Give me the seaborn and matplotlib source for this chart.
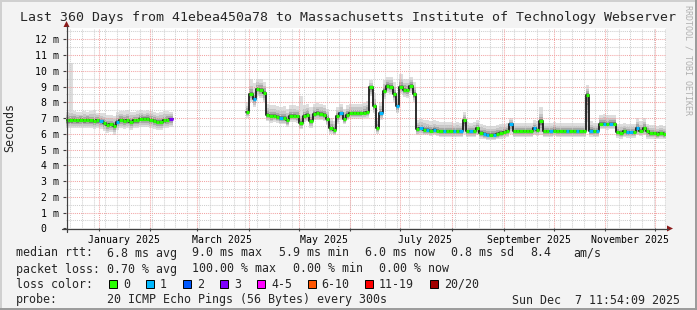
import matplotlib
matplotlib.use("Agg")
import numpy as np
import pandas as pd
import seaborn as sns
import matplotlib.pyplot as plt
from matplotlib.patches import Rectangle, Polygon
from matplotlib.lines import Line2D

# ---------------- data ----------------
START = pd.Timestamp("2024-12-12 11:54:09")
END = pd.Timestamp("2025-12-07 11:54:09")
BUCKET_DAYS = 2

# median rtt per 2-day bucket (ms); None = no data
median_ms = [
    6.85, 6.85, 6.9, 6.85, 6.9, 6.85, 6.9, 6.85, 6.8, 6.85,
    6.8, 6.7, 6.55, 6.6, 6.5, 6.75, 6.9, 6.8, 6.85, 6.75,
    6.85, 6.85, 6.95, 6.95, 6.95, 6.9, 6.8, 6.75, 6.75, 6.85,
    6.9, 6.95,
    None, None, None, None, None, None, None, None, None, None, None,
    None, None, None, None, None, None, None, None, None, None, None,
    7.4, 8.55, 8.2, 8.85, 8.8, 8.6, 7.2, 7.1, 7.15, 7.05,
    7.0, 7.0, 6.85, 7.15, 7.15, 7.1, 6.7, 7.15, 7.2, 6.8,
    7.25, 7.3, 7.25, 7.2, 6.95, 6.4, 6.25, 7.1, 7.3, 6.95,
    7.2, 7.3, 7.3, 7.3, 7.3, 7.35, 7.4, 8.95, 7.75, 6.4,
    7.3, 8.7, 9.05, 9.0, 8.5, 7.75, 9.0, 8.8, 8.75, 9.05,
    8.5, 6.3, 6.35, 6.25, 6.25, 6.2, 6.25, 6.2, 6.15, 6.15,
    6.15, 6.15, 6.15, 6.15, 6.15, 6.85, 6.15, 6.15, 6.15, 6.35,
    6.05, 6.0, 5.95, 5.95, 5.95, 6.0, 6.05, 6.1, 6.15, 6.6,
    6.15, 6.15, 6.15, 6.15, 6.15, 6.15, 6.35, 6.25, 6.8, 6.15,
    6.15, 6.15, 6.2, 6.15, 6.15, 6.15, 6.15, 6.15, 6.15, 6.15,
    6.15, 6.15, 8.45, 6.2, 6.15, 6.15, 6.65, 6.65, 6.6, 6.65,
    6.65, 6.1, 6.05, 6.15, 6.1, 6.1, 6.1, 6.35, 6.2, 6.35,
    6.15, 6.05, 6.05, 6.0, 6.05, 6.0,
]

# upper edge of the smoke (ms)
smoke_hi_ms = [
    7.4, 10.5, 7.45, 7.4, 7.4, 7.45, 7.4, 7.45, 7.5, 7.35,
    7.35, 7.3, 7.2, 7.2, 7.15, 7.4, 7.45, 7.45, 7.5, 7.4,
    7.4, 7.45, 7.5, 7.45, 7.5, 7.45, 7.4, 7.35, 7.4, 7.45,
    7.45, 7.4,
    None, None, None, None, None, None, None, None, None, None, None,
    None, None, None, None, None, None, None, None, None, None, None,
    8.0, 9.5, 9.2, 9.5, 9.5, 9.3, 7.9, 7.8, 7.8, 7.75,
    7.7, 7.75, 7.6, 7.8, 7.8, 7.75, 8.4, 7.8, 7.9, 7.7,
    7.9, 7.95, 7.9, 7.85, 7.6, 7.0, 6.8, 7.7, 7.9, 7.6,
    7.8, 7.9, 7.9, 7.9, 7.9, 7.95, 8.1, 9.4, 8.6, 7.0,
    8.0, 9.4, 9.6, 9.6, 9.3, 8.6, 9.8, 9.5, 9.5, 9.6,
    9.3, 6.9, 6.95, 6.9, 6.85, 6.8, 6.85, 6.8, 6.75, 6.75,
    6.75, 6.75, 6.7, 6.75, 6.7, 7.4, 6.75, 6.7, 6.75, 6.9,
    6.6, 6.55, 6.5, 6.5, 6.5, 6.55, 6.6, 6.65, 6.7, 7.0,
    6.7, 6.7, 6.7, 6.7, 6.7, 6.7, 6.85, 6.8, 7.7, 6.7,
    6.7, 6.7, 6.75, 6.7, 6.7, 6.7, 6.7, 6.7, 6.7, 6.7,
    6.7, 6.7, 9.1, 6.8, 6.7, 6.7, 7.2, 7.25, 7.2, 7.2,
    7.2, 6.6, 6.6, 6.7, 6.65, 6.65, 6.65, 7.0, 6.8, 7.0,
    6.65, 6.55, 6.55, 6.5, 6.55, 6.5,
]

# lower edge of the smoke (ms)
smoke_lo_ms = [
    6.35, 6.35, 6.4, 6.35, 6.4, 6.35, 6.4, 6.35, 6.3, 6.35,
    6.3, 6.2, 6.05, 6.1, 5.95, 6.25, 6.4, 6.3, 6.35, 6.25,
    6.35, 6.35, 6.45, 6.45, 6.45, 6.4, 6.3, 6.25, 6.25, 6.35,
    6.4, 6.45,
    None, None, None, None, None, None, None, None, None, None, None,
    None, None, None, None, None, None, None, None, None, None, None,
    7.0, 8.0, 7.7, 8.4, 8.3, 8.0, 6.8, 6.7, 6.75, 6.7,
    6.6, 6.6, 6.45, 6.75, 6.75, 6.7, 6.3, 6.75, 6.8, 6.4,
    6.85, 6.9, 6.85, 6.8, 6.55, 6.0, 5.9, 6.6, 6.9, 6.6,
    6.85, 6.95, 6.95, 6.95, 6.95, 7.0, 7.0, 8.4, 7.3, 6.0,
    6.9, 8.2, 8.6, 8.55, 8.0, 7.3, 8.55, 8.35, 8.3, 8.6,
    8.0, 5.9, 5.95, 5.9, 5.9, 5.85, 5.9, 5.85, 5.8, 5.8,
    5.8, 5.8, 5.8, 5.8, 5.8, 6.0, 5.8, 5.8, 5.8, 5.9,
    5.7, 5.65, 5.6, 5.6, 5.6, 5.65, 5.7, 5.75, 5.8, 6.0,
    5.8, 5.8, 5.8, 5.8, 5.8, 5.8, 5.9, 5.85, 5.9, 5.8,
    5.8, 5.8, 5.85, 5.8, 5.8, 5.8, 5.8, 5.8, 5.8, 5.8,
    5.8, 5.8, 6.2, 5.8, 5.8, 5.8, 6.3, 6.3, 6.25, 6.3,
    6.3, 5.75, 5.7, 5.8, 5.75, 5.75, 5.75, 5.9, 5.85, 5.9,
    5.7, 5.7, 5.7, 5.65, 5.7, 5.65,
]

# lost pings per bucket (index into loss legend)
loss_level = [
    0, 0, 0, 0, 0, 0, 0, 0, 0, 0,
    1, 0, 0, 0, 0, 1, 0, 0, 0, 0,
    0, 0, 0, 0, 0, 0, 0, 0, 0, 0,
    0, 3,
    None, None, None, None, None, None, None, None, None, None, None,
    None, None, None, None, None, None, None, None, None, None, None,
    0, 0, 1, 0, 0, 0, 0, 0, 0, 0,
    1, 0, 0, 0, 0, 0, 0, 0, 0, 0,
    0, 0, 0, 0, 0, 0, 0, 0, 1, 0,
    0, 0, 0, 0, 0, 0, 0, 0, 0, 0,
    1, 0, 0, 0, 0, 1, 0, 0, 0, 0,
    0, 0, 1, 0, 1, 0, 1, 0, 0, 1,
    0, 0, 1, 0, 1, 0, 0, 1, 0, 0,
    0, 1, 1, 0, 1, 0, 0, 0, 0, 1,
    0, 0, 0, 0, 0, 0, 1, 0, 0, 0,
    0, 1, 0, 0, 0, 0, 1, 0, 0, 1,
    0, 0, 0, 1, 0, 1, 0, 1, 0, 1,
    0, 0, 0, 0, 1, 1, 0, 1, 0, 0,
    0, 0, 0, 0, 0, 0,
]

loss_labels = ["0", "1", "2", "3", "4-5", "6-10", "11-19", "20/20"]
loss_colors = ["#26ff00", "#00b8ff", "#0059ff", "#7e00ff", "#ff00ff",
               "#ff5500", "#ff0000", "#a10000"]

y_tick_values = [0, 1, 2, 3, 4, 5, 6, 7, 8, 9, 10, 11, 12]
y_tick_labels = ["0  ", "1 m", "2 m", "3 m", "4 m", "5 m", "6 m", "7 m",
                 "8 m", "9 m", "10 m", "11 m", "12 m"]
x_label_months = ["2025-01-16", "2025-03-16", "2025-05-16",
                  "2025-07-16", "2025-09-16", "2025-11-16"]
x_tick_labels = ["January 2025", "March 2025", "May 2025",
                 "July 2025", "September 2025", "November 2025"]

title = "Last 360 Days from 41ebea450a78 to Massachusetts Institute of Technology Webserver"
median_stats = ["median rtt:", "6.8 ms avg", "9.0 ms max", "5.9 ms min",
                "6.0 ms now", "0.8 ms sd", "8.4", "am/s"]
loss_stats = ["packet loss:", "0.70 % avg", "100.00 % max", "0.00 % min", "0.00 % now"]
probe_text = ["probe:", "20 ICMP Echo Pings (56 Bytes) every 300s",
              "Sun Dec  7 11:54:09 2025"]

# ---------------- figure ----------------
W, H = 697, 310
sns.set_theme(style="white")
plt.rcParams["font.family"] = ["DejaVu Sans Mono"]
MONO = "DejaVu Sans Mono"

fig = plt.figure(figsize=(W / 100, H / 100), dpi=100, facecolor="#F3F3F3")


def fx(px):
    return px / W


def fy(py):
    return 1 - py / H


X0, X1, YT, YB = 66, 666, 28.3, 228.3
PX_PER_MS = 15.75
ax = fig.add_axes([fx(X0), fy(YB), (X1 - X0) / W, (YB - YT) / H])
ax.set_facecolor("white")
span = (END - START) / pd.Timedelta(days=1)
ax.set_xlim(0, span)
ax.set_ylim(0, (YB - YT) / PX_PER_MS)
for s in ax.spines.values():
    s.set_visible(False)


def day_of(ts):
    return (pd.Timestamp(ts) - START) / pd.Timedelta(days=1)


n = len(median_ms)
df = pd.DataFrame({
    "day": np.arange(n) * BUCKET_DAYS,
    "median": pd.array(median_ms, dtype="Float64").astype(float),
    "hi": pd.array(smoke_hi_ms, dtype="Float64").astype(float),
    "lo": pd.array(smoke_lo_ms, dtype="Float64").astype(float),
    "loss": pd.array(loss_level, dtype="Int64"),
})
valid = df["median"].notna()
df["seg"] = (valid != valid.shift()).cumsum()
df = df[valid].copy()

# step rows: add closing point at end of each segment
rows = []
for seg, g in df.groupby("seg"):
    rows.append(g)
    last = g.iloc[[-1]].copy()
    last["day"] = last["day"] + BUCKET_DAYS
    rows.append(last)
steps = pd.concat(rows, ignore_index=True)

# ---- grid ----
grid_kw = dict(linestyle=(0, (1, 1)), linewidth=0.75, zorder=2)
for h in np.arange(0.5, 12.6, 1.0):
    ax.axhline(h, color="#cfcfcf", **grid_kw)
for d in pd.date_range("2024-12-15", END, freq="7D"):
    ax.axvline(day_of(d), color="#cfcfcf", **grid_kw)
for h in range(1, 13):
    ax.axhline(h, color="#f2a5a5", **grid_kw)
for d in pd.date_range("2025-01-01", END, freq="MS"):
    ax.axvline(day_of(d), color="#f2a5a5", **grid_kw)

# ---- smoke ----
shades = [(1.0, 1.0, "#dedede"), (0.75, 0.65, "#c6c6c6"),
          (0.5, 0.4, "#a8a8a8"), (0.28, 0.18, "#7e7e7e")]
for seg, g in steps.groupby("seg"):
    m = g["median"].to_numpy()
    up = g["hi"].to_numpy() - m
    dn = m - g["lo"].to_numpy()
    for k, (fd, fu, col) in enumerate(shades):
        u = up if k == 0 else np.minimum(up, 0.7) * fu
        ax.fill_between(g["day"], m - dn * fd, m + u, step="post",
                        color=col, linewidth=0, zorder=1 + k * 0.1)

# ---- median ----
sns.lineplot(data=steps, x="day", y="median", units="seg", estimator=None,
             drawstyle="steps-post", color="#1c1c1c", linewidth=1.3,
             ax=ax, legend=False, zorder=3)
ax.hlines(df["median"], df["day"], df["day"] + BUCKET_DAYS,
          colors=[loss_colors[int(l)] for l in df["loss"]],
          linewidth=2.3, zorder=4, capstyle="butt")

# ---- ticks ----
ax.set_yticks(y_tick_values)
ax.set_yticklabels(y_tick_labels, fontsize=7.1, family=MONO, color="#000000")
ax.set_xticks([day_of(d) for d in x_label_months])
ax.set_xticklabels(x_tick_labels, fontsize=7.1, family=MONO, color="#000000")
ax.set_xticks([day_of(d) for d in pd.date_range("2025-01-01", END, freq="MS")], minor=True)
ax.tick_params(axis="y", which="major", length=2, width=0.8, color="#404040",
               pad=3.2, direction="out", left=True)
ax.tick_params(axis="x", which="major", length=0, pad=4.5)
ax.tick_params(axis="x", which="minor", length=2, width=0.8, color="#404040",
               direction="out", bottom=True)
ax.set_xlabel("")
ax.set_ylabel("")

# ---- axes lines with arrows ----
fig.add_artist(Line2D([fx(62), fx(668)], [fy(228.5), fy(228.5)], color="#404040", lw=0.9))
fig.add_artist(Line2D([fx(66.5), fx(66.5)], [fy(232), fy(26)], color="#404040", lw=0.9))
fig.add_artist(Polygon([[fx(667), fy(225.5)], [fx(673), fy(228.5)], [fx(667), fy(231.5)]],
                       closed=True, color="#8b1a1a", lw=0))
fig.add_artist(Polygon([[fx(63.5), fy(27)], [fx(66.5), fy(21)], [fx(69.5), fy(27)]],
                       closed=True, color="#8b1a1a", lw=0))

# ---- texts ----
fig.text(fx(20), fy(18), title, fontsize=9.55, family=MONO, va="center", ha="left")
fig.text(fx(10), fy(128), "Seconds", fontsize=8.4, family=MONO, rotation=90,
         va="center", ha="center")
fig.text(fx(688), fy(5), "RRDTOOL / TOBI OETIKER", fontsize=6, family=MONO,
         rotation=270, va="top", ha="center", color="#b0b0b0")

for x, t in zip([16, 107, 192, 279, 365, 451, 530, 573], median_stats):
    fig.text(fx(x), fy(253), t, fontsize=8.4, family=MONO, va="center", ha="left")
for x, t in zip([16, 107, 192, 293, 379], loss_stats):
    fig.text(fx(x), fy(269), t, fontsize=8.4, family=MONO, va="center", ha="left")
fig.text(fx(16), fy(284), "loss color:", fontsize=8.4, family=MONO, va="center", ha="left")
box_x = [109, 146, 183, 220, 257, 307.5, 365, 430]
lab_x = [123.5, 160, 197, 234, 271, 321, 379, 444]
for bx, lx, lab, col in zip(box_x, lab_x, loss_labels, loss_colors):
    fig.add_artist(Rectangle((fx(bx), fy(288)), 8 / W, 8 / H, facecolor=col,
                             edgecolor="#000000", lw=0.7))
    fig.text(fx(lx), fy(284), lab, fontsize=8.4, family=MONO, va="center", ha="left")
fig.text(fx(16), fy(300), probe_text[0], fontsize=8.4, family=MONO, va="center", ha="left")
fig.text(fx(107), fy(300), probe_text[1], fontsize=8.4, family=MONO, va="center", ha="left")
fig.text(fx(680), fy(300), probe_text[2], fontsize=8.4, family=MONO, va="center", ha="right")

# ---- frame ----
fig.add_artist(Line2D([0, 1], [fy(0.5), fy(0.5)], color="#d0d0d0", lw=1.4))
fig.add_artist(Line2D([fx(0.5), fx(0.5)], [0, 1], color="#d0d0d0", lw=1.4))
fig.add_artist(Line2D([0, 1], [fy(309), fy(309)], color="#9a9a9a", lw=1.4))
fig.add_artist(Line2D([fx(696), fx(696)], [0, 1], color="#9a9a9a", lw=1.4))

fig.savefig("out.png", dpi=100, facecolor=fig.get_facecolor())
